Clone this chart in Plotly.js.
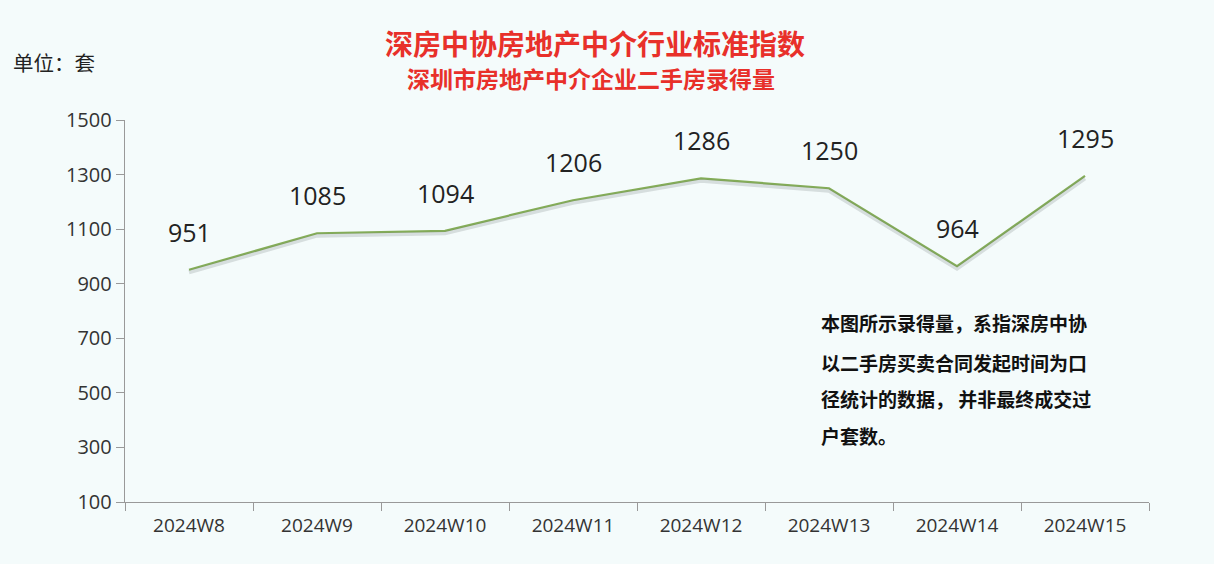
<!DOCTYPE html>
<html><head><meta charset="utf-8">
<script src="https://cdn.plot.ly/plotly-3.0.1.min.js"></script>
<style>html,body{margin:0;padding:0;background:#f4fbfb;}#chart{width:1214px;height:564px;}</style>
</head><body><div id="chart"></div>
<script>
const weeks = ["2024W8","2024W9","2024W10","2024W11","2024W12","2024W13","2024W14","2024W15"];
const counts = [951,1085,1094,1206,1286,1250,964,1295];
const yTicks = [100,300,500,700,900,1100,1300,1500];
const titleText = "深房中协房地产中介行业标准指数";
const subtitleText = "深圳市房地产中介企业二手房录得量";
const unitText = "单位：套";
const noteLines = ["本图所示录得量，系指深房中协","以二手房买卖合同发起时间为口","径统计的数据， 并非最终成交过","户套数。"];

const font = "'Noto Sans CJK SC', 'Open Sans', sans-serif";
const numFont = "'Open Sans', sans-serif";
const shadowShift = 9;

const traces = [
  {x: weeks, y: counts, yaxis: "y2", type: "scatter", mode: "lines",
   line: {color: "rgba(110,120,120,0.22)", width: 4}, hoverinfo: "skip", showlegend: false},
  {x: weeks, y: counts, type: "scatter", mode: "lines",
   line: {color: "#84ad58", width: 2.2}, showlegend: false}
];

const annotations = [
  {text: "<b>" + titleText + "</b>", xref: "paper", yref: "paper", x: 0.459, y: 1.0, yshift: 77,
   xanchor: "center", yanchor: "middle", showarrow: false, font: {family: font, size: 28, color: "#e8302a"}},
  {text: "<b>" + subtitleText + "</b>", xref: "paper", yref: "paper", x: 0.455, y: 1.0, yshift: 42,
   xanchor: "center", yanchor: "middle", showarrow: false, font: {family: font, size: 23, color: "#e8302a"}},
  {text: unitText, xref: "paper", yref: "paper", x: -0.111, y: 1.0, yshift: 58, xanchor: "left", yanchor: "middle",
   showarrow: false, font: {family: font, size: 20.5, color: "#222"}}
];
weeks.forEach((w, i) => {
  annotations.push({text: String(counts[i]), x: w, y: counts[i], xref: "x", yref: "y", yshift: 38,
    xanchor: "center", yanchor: "middle", showarrow: false, font: {family: numFont, size: 25, color: "#222"}});
});
const noteY = [0.469, 0.366, 0.272, 0.175];
noteLines.forEach((s, i) => {
  annotations.push({text: "<b>" + s + "</b>", xref: "paper", yref: "paper", x: 0.678, y: noteY[i],
    xanchor: "left", yanchor: "middle", align: "left", showarrow: false,
    font: {family: font, size: 19, color: "#111"}});
});

const layout = {
  width: 1214, height: 564,
  paper_bgcolor: "#f4fbfb", plot_bgcolor: "#f4fbfb",
  margin: {l: 125, r: 65, t: 120, b: 62},
  font: {family: font},
  xaxis: {type: "category", range: [-0.5, 7.5], tickson: "boundaries", ticks: "outside", ticklen: 8, tickcolor: "#999",
          showline: true, linecolor: "#999", linewidth: 1.3, showgrid: false, zeroline: false,
          ticklabelstandoff: 6,
          tickfont: {family: numFont, size: 19, color: "#333"}, fixedrange: true},
  yaxis: {range: [100, 1500], tickvals: yTicks, ticks: "outside", ticklen: 8, tickcolor: "#999",
          showline: true, linecolor: "#999", linewidth: 1.3, showgrid: false, zeroline: false,
          tickfont: {family: numFont, size: 20, color: "#333"}, fixedrange: true},
  yaxis2: {range: [100 + shadowShift, 1500 + shadowShift], overlaying: "y", visible: false, fixedrange: true},
  annotations: annotations,
  showlegend: false
};

Plotly.newPlot("chart", traces, layout, {displayModeBar: false, staticPlot: true});
</script></body></html>
